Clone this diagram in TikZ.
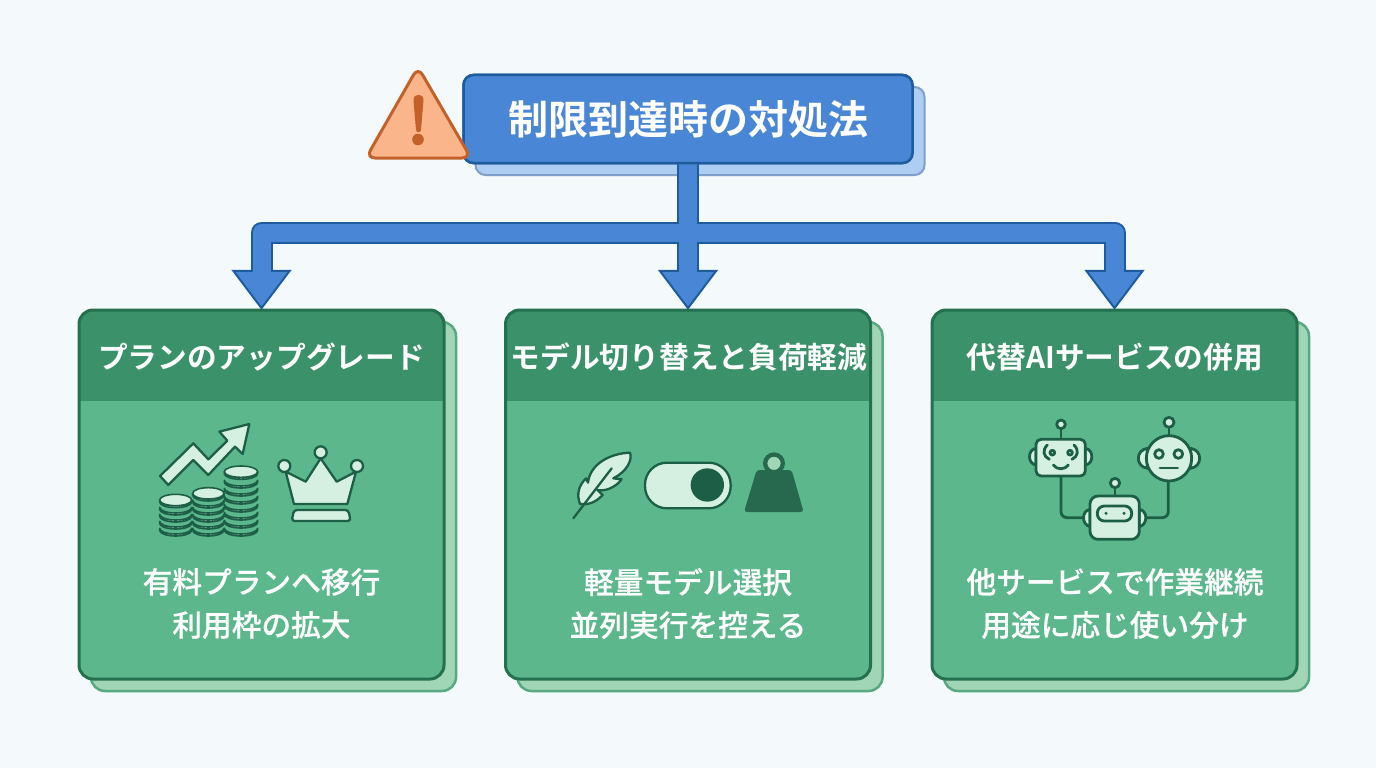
\documentclass[tikz,border=0pt]{standalone}
\usepackage{fontspec}
\setmainfont{Noto Sans CJK JP}
\newfontfamily\cjkbold{Noto Sans CJK JP Bold}
\newfontfamily\cjkmed[FakeBold=0.4]{Noto Sans CJK JP Medium}
\usetikzlibrary{arrows.meta,calc}
\definecolor{bgc}{HTML}{F4F9FB}
\definecolor{blueF}{HTML}{4A86D6}
\definecolor{blueD}{HTML}{1F5C9E}
\definecolor{blueSF}{HTML}{AECDF3}
\definecolor{blueSD}{HTML}{7F9FCB}
\definecolor{warnF}{HTML}{FBB58B}
\definecolor{warnD}{HTML}{C2622A}
\definecolor{cardF}{HTML}{5CB88C}
\definecolor{cardH}{HTML}{3B9169}
\definecolor{cardD}{HTML}{24704F}
\definecolor{cardSF}{HTML}{A0D6B6}
\definecolor{cardSD}{HTML}{58A881}
\definecolor{iconF}{HTML}{D5EFE0}
\definecolor{iconD}{HTML}{1D5F46}
\definecolor{weightC}{HTML}{27694F}
\tikzset{
  titlebox/.style={draw=blueD,fill=blueF,line width=2.5pt,rounded corners=10pt,minimum width=449pt,minimum height=88pt,inner sep=0pt},
  titleshadow/.style={draw=blueSD,fill=blueSF,line width=2pt,rounded corners=10pt,minimum width=449pt,minimum height=88pt,inner sep=0pt},
  cardbox/.style={draw=cardD,line width=3pt,rounded corners=14pt,minimum width=365pt,minimum height=369pt,inner sep=0pt},
  cardbody/.style={fill=cardF,rounded corners=14pt,minimum width=365pt,minimum height=369pt,inner sep=0pt},
  cardshadow/.style={draw=cardSD,fill=cardSF,line width=2.5pt,rounded corners=14pt,minimum width=365pt,minimum height=369pt,inner sep=0pt},
  headtext/.style={text=white,font=\cjkbold\fontsize{29.7}{32}\selectfont,inner sep=0pt},
  bodytext/.style={text=white,font=\cjkmed\fontsize{29.7}{43}\selectfont,align=center,inner sep=0pt},
  titletext/.style={text=white,font=\cjkbold\fontsize{40}{44}\selectfont,inner sep=0pt},
  connOuter/.style={draw=blueD,line width=22pt,line join=round,-{Triangle[length=40pt,width=60pt,fill=blueF,line width=2pt]}},
  connInner/.style={draw=blueF,line width=18pt,line join=round,shorten >=38pt},
  ic/.style={draw=iconD,fill=iconF,line width=2.3pt,line join=round},
  icl/.style={draw=iconD,line width=2.3pt,line join=round,line cap=round},
  coinst/.style={draw=iconD,fill=iconF,line width=1.6pt,line join=round},
  rb/.style={draw=iconD,fill=iconF,line width=2.8pt,line join=round},
  rbl/.style={draw=iconD,line width=2.8pt,line join=round,line cap=round},
  zoomed/.style={x=0.33333pt,y=-0.33333pt}
}
\newcommand{\mycoin}[3]{%
  \path[coinst] (#1-#3,#2) -- (#1-#3,#2+6) arc[start angle=180,end angle=0,x radius=#3,y radius=17] -- (#1+#3,#2) arc[start angle=0,end angle=180,x radius=#3,y radius=17] -- cycle;}
\newcommand{\mycointop}[3]{\path[coinst] (#1,#2) ellipse[x radius=#3,y radius=17];}
\begin{document}
\begin{tikzpicture}[x=1pt,y=-1pt]
\useasboundingbox (0,0) rectangle (1376,768);
\fill[bgc] (0,0) rectangle (1376,768);

\node[titleshadow] (titleS) at (700,131) {};
\foreach \n/\cx in {s1/261.5,s2/688,s3/1114.5}{
  \node[cardshadow] (\n) at (\cx+12,506.5) {};
}
\foreach \n/\cx in {c1/261.5,c2/688,c3/1114.5}{
  \node[cardbody] (\n) at (\cx,494.5) {};
  \begin{scope}
    \clip[rounded corners=14pt] (\cx-182.5,310) rectangle (\cx+182.5,679);
    \fill[cardH] (\cx-182.5,310) rectangle (\cx+182.5,401);
  \end{scope}
  \node[cardbox] (\n b) at (\cx,494.5) {};
}
\node[titlebox] (title) at (688,119) {};
\coordinate (bus) at (688,232.5);
\draw[connOuter] (title.south) -- (bus) -| (c1.north);
\draw[connOuter] (title.south) -- (bus) -| (c3.north);
\draw[connOuter] (title.south) -- (c2.north);
\draw[connInner] (title.south) -- (bus) -| (c1.north);
\draw[connInner] (title.south) -- (bus) -| (c3.north);
\draw[connInner] (title.south) -- (c2.north);
\node[titlebox] (titleF) at (688,119) {};
\node[titletext] (titleT) at (688,119) {制限到達時の対処法};

\path[draw=warnD,fill=warnF,line width=3pt,rounded corners=9pt,line join=round] (418,67) -- (471,158) -- (366,158) -- cycle;
\fill[warnD] (413.5,100) .. controls (413.5,93) and (423.5,93) .. (423.5,100) -- (421,130) .. controls (420.5,133) and (416.5,133) .. (416,130) -- cycle;
\fill[warnD] (418,139.5) circle[radius=5.8];

\node[headtext] (h1) at (261.5,357) {プランのアップグレード};
\node[headtext] (h2) at (689,357) {モデル切り替えと負荷軽減};
\node[headtext] (h3) at (1115,357) {代替AIサービスの併用};
\node[bodytext] (b1) at (261.5,603.5) {有料プランへ移行\\利用枠の拡大};
\node[bodytext] (b2) at (688,603.5) {軽量モデル選択\\並列実行を控える};
\node[bodytext] (b3) at (1115,603.5) {他サービスで作業継続\\用途に応じ使い分け};

\begin{scope}[shift={(140,410)},zoomed]
  \path[ic] (60,198) -- (160,100) -- (205,148) -- (262,92) -- (238,65) -- (328,42) -- (308,132) -- (285,110) -- (205,195) -- (160,150) -- (85,225) -- cycle;
  \foreach \y in {355,334,313,292,270}{\mycoin{107}{\y}{48}}
  \mycointop{107}{270}{48}
  \foreach \y in {355,334,313,292,271,250}{\mycoin{205}{\y}{47}}
  \mycointop{205}{250}{47}
  \foreach \y in {355,331,307,283,259,235,211,185}{\mycoin{303}{\y}{50}}
  \mycointop{303}{185}{50}
  \path[ic] (462,282) -- (437,185) -- (497,215) -- (542,145) -- (590,215) -- (648,185) -- (622,282) -- cycle;
  \path[ic] (433,168) circle[radius=18];
  \path[ic] (542,127) circle[radius=18];
  \path[ic] (651,168) circle[radius=18];
  \path[ic,rounded corners=3pt] (455,333) -- (632,333) -- (625,300) -- (462,300) -- cycle;
\end{scope}

\begin{scope}[shift={(560,440)},zoomed]
  \path[ic] (60,192) .. controls (48,160) and (58,135) .. (78,115) -- (84,128) .. controls (90,72) and (150,40) .. (210,38) .. controls (218,60) and (200,95) .. (160,115) -- (185,118) .. controls (165,145) and (130,155) .. (112,150) -- (128,165) .. controls (105,190) and (80,195) .. (60,192) -- cycle;
  \path[icl] (40,235) -- (155,85);
  \path[ic,rounded corners=22pt] (255,68) rectangle (512,205);
  \fill[iconD] (442,135) circle[radius=50];
  \fill[cardSF] (642,70) circle[radius=22];
  \fill[weightC,even odd rule] (642,70) circle[radius=33] (642,70) circle[radius=20];
  \fill[weightC,rounded corners=3pt] (590,90) -- (695,90) -- (731,216) -- (552,216) -- cycle;
\end{scope}

\begin{scope}[shift={(1010,410)},zoomed]
  \path[rbl,rounded corners=6pt] (153,198) -- (153,323) -- (240,323);
  \path[rbl,rounded corners=6pt] (388,323) -- (475,323) -- (475,210);
  \path[rbl] (153,88) -- (153,56);
  \path[rb] (153,43) circle[radius=13];
  \path[rb] (78,115) .. controls (52,118) and (52,162) .. (78,165) -- cycle;
  \path[rb] (226,115) .. controls (252,118) and (252,162) .. (226,165) -- cycle;
  \path[rb,rounded corners=5pt] (78,88) rectangle (226,198);
  \path[rb] (127,128) circle[radius=7];
  \path[rb] (180,128) circle[radius=7];
  \path[rbl] (130,165) .. controls (140,180) and (165,180) .. (175,165);
  \path[rbl] (112,105) .. controls (96,120) and (100,140) .. (118,148);
  \path[rbl] (192,105) .. controls (208,120) and (204,140) .. (186,148);
  \path[rbl] (315,258) -- (315,233);
  \path[rb] (315,219) circle[radius=14];
  \path[rb] (240,298) .. controls (214,302) and (214,344) .. (240,350) -- cycle;
  \path[rb] (388,298) .. controls (414,302) and (414,344) .. (388,350) -- cycle;
  \path[rb,rounded corners=8pt] (240,258) rectangle (388,388);
  \path[rb,rounded corners=7pt] (262,288) rectangle (365,333);
  \fill[iconD] (288,310) circle[radius=5];
  \fill[iconD] (342,310) circle[radius=5];
  \path[rbl] (477,77) -- (477,52);
  \path[rb] (477,37) circle[radius=15];
  \path[rb] (412,115) .. controls (376,120) and (376,170) .. (412,175) -- cycle;
  \path[rb] (542,115) .. controls (578,120) and (578,170) .. (542,175) -- cycle;
  \path[rb] (477,145) circle[radius=68];
  \path[rb] (447,132) circle[radius=13];
  \path[rb] (505,132) circle[radius=13];
  \path[rbl] (450,174) -- (503,174);
\end{scope}
\end{tikzpicture}
\end{document}
